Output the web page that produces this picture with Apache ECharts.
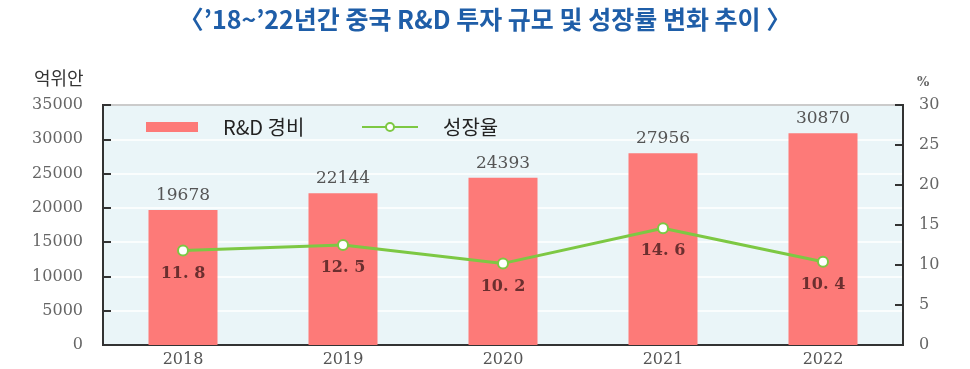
<!DOCTYPE html>
<html><head><meta charset="utf-8">
<script src="https://cdn.jsdelivr.net/npm/echarts@6/dist/echarts.min.js"></script>
<style>html,body{margin:0;padding:0;background:#fff}#c{width:970px;height:369px}</style>
</head><body><div id="c"></div>
<script>
const years = ['2018','2019','2020','2021','2022'];
const rdSpend = [19678, 22144, 24393, 27956, 30870];
const growthRate = [11.8, 12.5, 10.2, 14.6, 10.4];
const leftTicks = {min:0, max:35000, interval:5000};
const rightTicks = {min:0, max:30, interval:5};

const serif = "'DejaVu Serif','Liberation Serif',serif";
const legendText = {fontSize:20, color:'#222', fontFamily:"'Noto Sans CJK KR'", padding:[0,0,0,20]};
const chart = echarts.init(document.getElementById('c'));
chart.setOption({
  animation:false,
  title:{text:'〈’18~’22년간 중국 R&D 투자 규모 및 성장률 변화 추이 〉', left:'center', top:2,
    textStyle:{color:'#1f5ea8', fontSize:25, fontWeight:'bold', fontFamily:"'Noto Sans CJK KR'"}},
  graphic:[
    {type:'text', left:34, top:69, style:{text:'억위안', font:"18px 'Noto Sans CJK KR'", fill:'#333'}},
    {type:'text', left:917, top:76, style:{text:'%', font:"bold 13px "+serif, fill:'#666'}}
  ],
  legend:[
    {left:141, top:112, itemWidth:52, itemHeight:10, textStyle:legendText, data:[{name:'R&D 경비', icon:'rect'}]},
    {left:356, top:112, itemWidth:56, itemHeight:10, textStyle:legendText, data:[{name:'성장율'}]}
  ],
  grid:{left:103, right:67, top:105, bottom:24, show:true, backgroundColor:'#eaf5f8', borderColor:'#333', borderWidth:2},
  xAxis:{type:'category', data:years,
    axisLine:{lineStyle:{color:'#333', width:2}},
    axisTick:{inside:true, length:6, lineStyle:{color:'#333', width:2}},
    axisLabel:{fontFamily:serif, fontSize:16, color:'#555', margin:7}},
  yAxis:[
    {type:'value', min:leftTicks.min, max:leftTicks.max, interval:leftTicks.interval,
      axisLine:{show:true, lineStyle:{color:'#333', width:2}},
      axisTick:{show:true, inside:true, length:8, lineStyle:{color:'#333', width:2}},
      splitLine:{lineStyle:{color:'#ffffff', width:1.5}},
      axisLabel:{fontFamily:serif, fontSize:16, color:'#666', margin:20, formatter:v=>String(v)}},
    {type:'value', min:rightTicks.min, max:rightTicks.max, interval:rightTicks.interval,
      axisLine:{show:true, lineStyle:{color:'#333', width:2}},
      axisTick:{show:true, inside:true, length:8, lineStyle:{color:'#333', width:2}},
      splitLine:{show:false},
      axisLabel:{fontFamily:serif, fontSize:16, color:'#666', margin:16}}
  ],
  series:[
    {name:'R&D 경비', type:'bar', data:rdSpend, barWidth:69, yAxisIndex:0,
      itemStyle:{color:'#fd7a78'},
      label:{show:true, position:'top', distance:6, fontFamily:serif, fontSize:17, color:'#555'}},
    {name:'성장율', type:'line', data:growthRate, yAxisIndex:1,
      lineStyle:{color:'#7dc843', width:3}, itemStyle:{color:'#fff', borderColor:'#7dc843', borderWidth:2},
      symbol:'circle', symbolSize:10,
      label:{show:true, position:'bottom', distance:9, fontFamily:serif, fontSize:16, fontWeight:'bold', color:'#6b2f2f',
        formatter:p=>p.value.toFixed(1).replace('.', '. ')}}
  ]
});
</script></body></html>
